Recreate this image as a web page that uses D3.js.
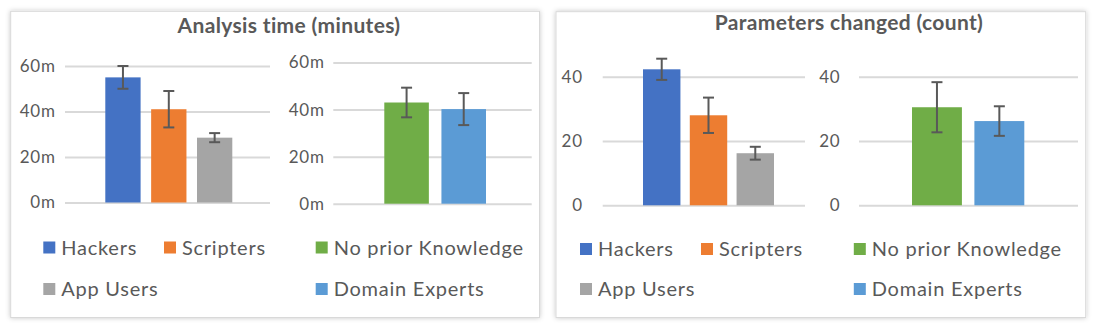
<!DOCTYPE html>
<html>
<head>
<meta charset="utf-8">
<script src="https://cdn.jsdelivr.net/npm/d3@7"></script>
<style>
  body { margin: 0; background: #fff; }
  svg { display: block; }
  text { font-family: Lato, "Open Sans", sans-serif; fill: #595959; }
</style>
</head>
<body>
<svg id="chart" width="1095" height="327"></svg>
<script>
// data
const groupA = ['Hackers', 'Scripters', 'App Users'];
const groupB = ['No prior Knowledge', 'Domain Experts'];
const colorsA = ['#4472C4', '#ED7D31', '#A5A5A5'];
const colorsB = ['#70AD47', '#5B9BD5'];

const timeA = [55, 41, 28.5];
const timeErrA = [5, 8, 2];
const timeB = [43, 40.2];
const timeErrB = [6.3, 6.8];

const paramsA = [42.3, 28, 16.2];
const paramsErrA = [3.3, 5.5, 2];
const paramsB = [30.5, 26.2];
const paramsErrB = [7.8, 4.6];

const timeTicks = [0, 20, 40, 60];
const paramTicks = [0, 20, 40];

const svg = d3.select('#chart');

const defs = svg.append('defs');
defs.append('filter')
    .attr('id', 'shadow')
    .attr('x', '-5%').attr('y', '-5%')
    .attr('width', '110%').attr('height', '110%')
    .append('feDropShadow')
    .attr('dx', 0).attr('dy', 0)
    .attr('stdDeviation', 2.5)
    .attr('flood-color', '#000')
    .attr('flood-opacity', 0.22);

const panels = [
    {
        frame: [10.7, 11.3, 539.5, 317.5],
        title: 'Analysis time (minutes)', titleX: 289, titleY: 33,
        fmt: d => d + 'm', ticks: timeTicks, max: 60,
        charts: [
            { names: groupA, colors: colorsA, values: timeA, errs: timeErrA,
              grid: [65, 270], band: [105.3, 232.3], pad: 0.23, y: [202.5, 66], labelX: 55 },
            { names: groupB, colors: colorsB, values: timeB, errs: timeErrB,
              grid: [333.3, 531.7], band: [384.3, 486], pad: 0.22, y: [203.7, 62.5], labelX: 324 }
        ],
        legend: { x: [43.3, 164, 315.7], y: [247.5, 289] }
    },
    {
        frame: [556, 11.7, 1085.7, 317.5],
        title: 'Parameters changed (count)', titleX: 849, titleY: 30,
        fmt: d => d, ticks: paramTicks, max: 40,
        charts: [
            { names: groupA, colors: colorsA, values: paramsA, errs: paramsErrA,
              grid: [602.7, 805], band: [643, 774], pad: 0.2, y: [205.3, 76.7], labelX: 582 },
            { names: groupB, colors: colorsB, values: paramsB, errs: paramsErrB,
              grid: [859, 1078], band: [912, 1024.3], pad: 0.2, y: [205.3, 76.7], labelX: 839.7 }
        ],
        legend: { x: [580, 701, 853.8], y: [249, 289] }
    }
];

panels.forEach(p => {
    const [fx0, fy0, fx1, fy1] = p.frame;
    svg.append('rect')
        .attr('x', fx0).attr('y', fy0)
        .attr('width', fx1 - fx0).attr('height', fy1 - fy0)
        .attr('fill', '#fff')
        .attr('stroke', '#d9d9d9')
        .attr('stroke-width', 1)
        .attr('filter', 'url(#shadow)');

    svg.append('text')
        .attr('x', p.titleX).attr('y', p.titleY)
        .attr('text-anchor', 'middle')
        .attr('font-size', 21)
        .attr('font-weight', 'bold')
        .attr('letter-spacing', 0.35)
        .text(p.title);

    p.charts.forEach(c => {
        const y = d3.scaleLinear().domain([0, p.max]).range(c.y);
        const x = d3.scaleBand().domain(c.names).range(c.band)
            .paddingInner(c.pad).paddingOuter(0);

        const g = svg.append('g');

        const axis = g.append('g')
            .attr('transform', `translate(${c.grid[0]},0)`)
            .call(d3.axisLeft(y)
                .tickValues(p.ticks)
                .tickFormat(p.fmt)
                .tickSize(-(c.grid[1] - c.grid[0]))
                .tickPadding(c.grid[0] - c.labelX - 0.8));
        axis.select('.domain').remove();
        axis.selectAll('.tick line')
            .attr('stroke', '#d9d9d9')
            .attr('stroke-width', 2);
        axis.selectAll('.tick text')
            .attr('font-family', 'Lato, sans-serif')
            .attr('font-size', 17)
            .attr('letter-spacing', 0.8)
            .attr('fill', '#595959');

        const rows = c.names.map((n, i) => ({ name: n, v: c.values[i], e: c.errs[i], color: c.colors[i] }));

        g.selectAll('.bar')
            .data(rows)
            .enter().append('rect')
            .attr('class', 'bar')
            .attr('x', d => x(d.name))
            .attr('width', x.bandwidth())
            .attr('y', d => y(d.v))
            .attr('height', d => y(0) - y(d.v))
            .attr('fill', d => d.color);

        const err = g.selectAll('.err')
            .data(rows)
            .enter().append('g')
            .attr('class', 'err')
            .attr('stroke', '#595959')
            .attr('stroke-width', 2);
        const cx = d => x(d.name) + x.bandwidth() / 2;
        err.append('line')
            .attr('x1', cx).attr('x2', cx)
            .attr('y1', d => y(d.v + d.e)).attr('y2', d => y(d.v - d.e));
        err.append('line')
            .attr('x1', d => cx(d) - 5.5).attr('x2', d => cx(d) + 5.5)
            .attr('y1', d => y(d.v + d.e)).attr('y2', d => y(d.v + d.e));
        err.append('line')
            .attr('x1', d => cx(d) - 5.5).attr('x2', d => cx(d) + 5.5)
            .attr('y1', d => y(d.v - d.e)).attr('y2', d => y(d.v - d.e));
    });

    // legend: Hackers, Scripters / App Users on the left, group B on the right
    const items = [
        { name: groupA[0], color: colorsA[0], x: p.legend.x[0], y: p.legend.y[0] },
        { name: groupA[1], color: colorsA[1], x: p.legend.x[1], y: p.legend.y[0] },
        { name: groupA[2], color: colorsA[2], x: p.legend.x[0], y: p.legend.y[1] },
        { name: groupB[0], color: colorsB[0], x: p.legend.x[2], y: p.legend.y[0] },
        { name: groupB[1], color: colorsB[1], x: p.legend.x[2], y: p.legend.y[1] }
    ];
    const leg = svg.selectAll(null)
        .data(items)
        .enter().append('g')
        .attr('transform', d => `translate(${d.x},${d.y})`);
    leg.append('rect')
        .attr('x', 0).attr('y', -6)
        .attr('width', 12).attr('height', 12)
        .attr('fill', d => d.color);
    leg.append('text')
        .attr('x', 18).attr('y', 7)
        .attr('font-size', 20)
        .attr('letter-spacing', 0.75)
        .text(d => d.name);
});
</script>
</body>
</html>
